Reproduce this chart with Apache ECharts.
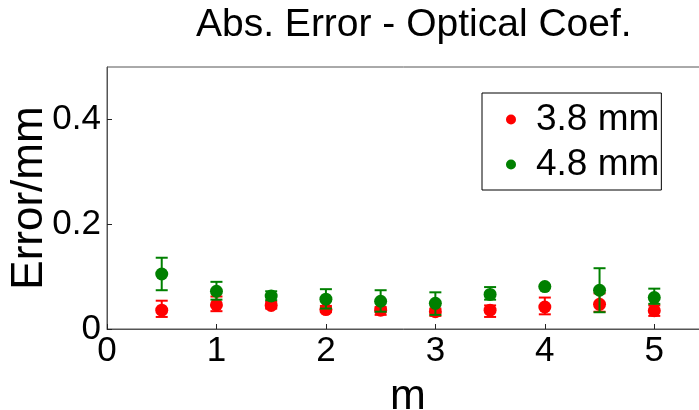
<!DOCTYPE html>
<html>
<head>
<meta charset="utf-8">
<script src="https://cdn.jsdelivr.net/npm/echarts@6/dist/echarts.min.js"></script>
<style>
  html, body { margin: 0; padding: 0; background: #fff; }
  #chart { width: 699px; height: 410px; }
</style>
</head>
<body>
<div id="chart"></div>
<script>
// Harmonic order m and the absolute error (mean with lower/upper bounds) per depth
var mValues = [0.5, 1, 1.5, 2, 2.5, 3, 3.5, 4, 4.5, 5];

var mean38  = [0.036, 0.046, 0.045, 0.037, 0.036, 0.033, 0.036, 0.042, 0.047, 0.035];
var lower38 = [0.023, 0.034, 0.039, 0.032, 0.027, 0.025, 0.023, 0.028, 0.033, 0.025];
var upper38 = [0.054, 0.062, 0.052, 0.044, 0.042, 0.039, 0.045, 0.060, 0.068, 0.045];

var mean48  = [0.105, 0.072, 0.063, 0.057, 0.053, 0.049, 0.066, 0.081, 0.074, 0.060];
var lower48 = [0.074, 0.056, 0.055, 0.039, 0.033, 0.027, 0.056, 0.079, 0.032, 0.048];
var upper48 = [0.136, 0.090, 0.072, 0.076, 0.074, 0.070, 0.080, 0.083, 0.116, 0.077];

var seriesNames = ['3.8 mm', '4.8 mm'];
var seriesColors = ['#ff0000', '#008000'];

var FONT = '"Liberation Sans", Arial, sans-serif';

function pairs(xs, ys) {
  return xs.map(function (x, i) { return [x, ys[i]]; });
}
function triples(xs, lo, hi) {
  return xs.map(function (x, i) { return [x, lo[i], hi[i]]; });
}

// Vertical error bar with horizontal caps
function errorBar(color) {
  return function (params, api) {
    var x = api.value(0);
    var lo = api.coord([x, api.value(1)]);
    var hi = api.coord([x, api.value(2)]);
    var half = 6;
    var style = { stroke: color, lineWidth: 2 };
    return {
      type: 'group',
      children: [
        { type: 'line', shape: { x1: lo[0], y1: lo[1], x2: hi[0], y2: hi[1] }, style: style },
        { type: 'line', shape: { x1: lo[0] - half, y1: lo[1], x2: lo[0] + half, y2: lo[1] }, style: style },
        { type: 'line', shape: { x1: hi[0] - half, y1: hi[1], x2: hi[0] + half, y2: hi[1] }, style: style }
      ]
    };
  };
}

var chart = echarts.init(document.getElementById('chart'), null, { renderer: 'canvas' });

var option = {
  animation: false,
  backgroundColor: '#ffffff',
  title: {
    text: 'Abs. Error - Optical Coef.',
    left: 191,
    top: 1,
    textStyle: { fontFamily: FONT, fontSize: 39, fontWeight: 'normal', color: '#000' }
  },
  legend: {
    data: seriesNames,
    orient: 'vertical',
    left: 482,
    top: 93,
    padding: [8, 2, 7, 24],
    itemGap: 8,
    itemWidth: 10,
    itemHeight: 10,
    icon: 'circle',
    borderColor: '#000',
    borderWidth: 1,
    backgroundColor: '#fff',
    textStyle: { fontFamily: FONT, fontSize: 37, color: '#000', padding: [0, 0, 0, 15] }
  },
  grid: {
    left: 107,
    top: 67,
    right: -10,
    bottom: 81,
    outerBoundsMode: 'none',
    containLabel: false,
    show: true,
    borderColor: '#555',
    borderWidth: 1,
    backgroundColor: '#fff'
  },
  xAxis: {
    type: 'value',
    min: 0,
    max: 5.5,
    interval: 1,
    name: 'm',
    nameLocation: 'middle',
    nameGap: 47,
    nameMoveOverlap: false,
    nameTextStyle: { fontFamily: FONT, fontSize: 43, color: '#000' },
    axisLine: { show: true, onZero: false, lineStyle: { color: '#555', width: 1 } },
    axisTick: { show: true, inside: true, length: 5, lineStyle: { color: '#222' } },
    axisLabel: { fontFamily: FONT, fontSize: 35, color: '#000', margin: 5, showMaxLabel: false },
    splitLine: { show: false }
  },
  yAxis: {
    type: 'value',
    min: 0,
    max: 0.5,
    interval: 0.2,
    name: 'Error/mm',
    nameLocation: 'middle',
    nameGap: 55,
    nameMoveOverlap: false,
    nameTextStyle: { fontFamily: FONT, fontSize: 44, color: '#000' },
    axisLine: { show: true, lineStyle: { color: '#555', width: 1 } },
    axisTick: { show: true, inside: true, length: 5, lineStyle: { color: '#222' } },
    axisLabel: { fontFamily: FONT, fontSize: 35, color: '#000', margin: 6, showMaxLabel: false },
    splitLine: { show: false }
  },
  series: [
    {
      type: 'custom',
      name: '3.8 mm bars',
      renderItem: errorBar(seriesColors[0]),
      data: triples(mValues, lower38, upper38),
      encode: { x: 0, y: [1, 2] },
      z: 2
    },
    {
      type: 'scatter',
      name: seriesNames[0],
      data: pairs(mValues, mean38),
      symbol: 'circle',
      symbolSize: 13,
      itemStyle: { color: seriesColors[0], opacity: 1 },
      z: 3
    },
    {
      type: 'custom',
      name: '4.8 mm bars',
      renderItem: errorBar(seriesColors[1]),
      data: triples(mValues, lower48, upper48),
      encode: { x: 0, y: [1, 2] },
      z: 4
    },
    {
      type: 'scatter',
      name: seriesNames[1],
      data: pairs(mValues, mean48),
      symbol: 'circle',
      symbolSize: 13,
      itemStyle: { color: seriesColors[1], opacity: 1 },
      z: 5
    }
  ]
};

chart.setOption(option);
</script>
</body>
</html>
